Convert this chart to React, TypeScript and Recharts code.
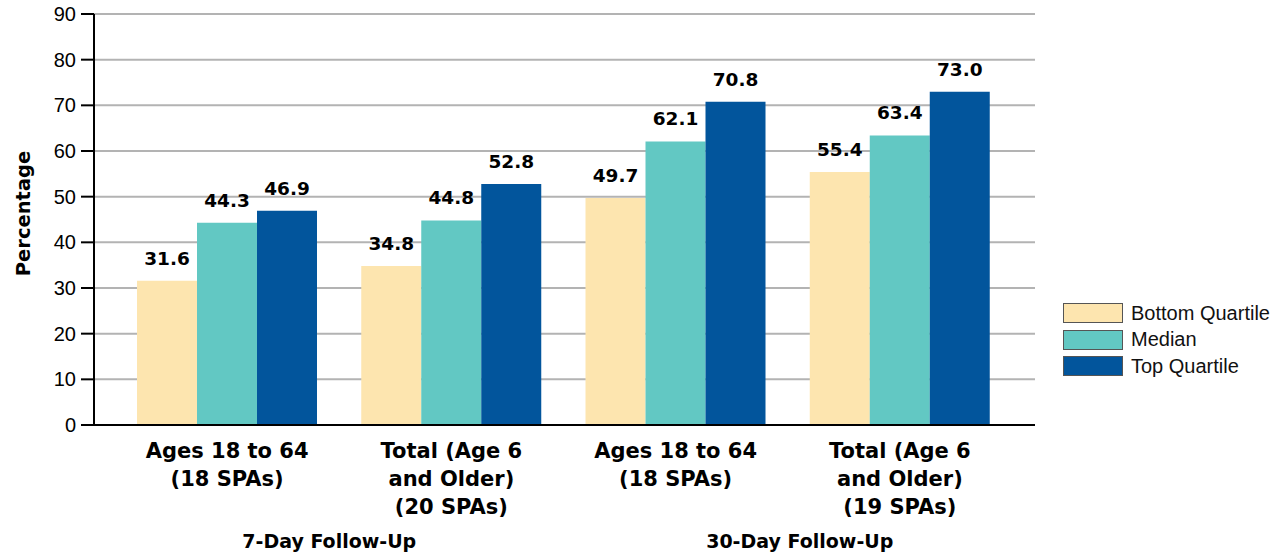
import React from 'react';
import { BarChart, Bar, XAxis, YAxis, CartesianGrid, Legend, LabelList } from 'recharts';

const categories = [
  'Ages 18 to 64\n(18 SPAs)',
  'Total (Age 6\nand Older)\n(20 SPAs)',
  'Ages 18 to 64\n(18 SPAs)',
  'Total (Age 6\nand Older)\n(19 SPAs)',
];
const followUp = ['7-Day Follow-Up', '7-Day Follow-Up', '30-Day Follow-Up', '30-Day Follow-Up'];
const bottomQuartile = [31.6, 34.8, 49.7, 55.4];
const median = [44.3, 44.8, 62.1, 63.4];
const topQuartile = [46.9, 52.8, 70.8, 73.0];
const yTicks = [0, 10, 20, 30, 40, 50, 60, 70, 80, 90];

const series = [
  { key: 'bottom', name: 'Bottom Quartile', color: '#fde5af' },
  { key: 'median', name: 'Median', color: '#62c8c3' },
  { key: 'top', name: 'Top Quartile', color: '#02559c' },
];

const data = categories.map((name, i) => ({
  name,
  group: followUp[i],
  bottom: bottomQuartile[i],
  median: median[i],
  top: topQuartile[i],
}));

const boldFont = '"DejaVu Sans", sans-serif';
const plainFont = '"Liberation Sans", Arial, sans-serif';

function CategoryTick({ x, y, payload }: any) {
  const lines = String(payload.value).split('\n');
  return (
    <text x={x} y={y} textAnchor="middle" fontFamily={boldFont} fontWeight="bold" fontSize={21} fill="#000">
      {lines.map((line, i) => (
        <tspan key={i} x={x} dy={i === 0 ? 33 : 28}>
          {line}
        </tspan>
      ))}
    </text>
  );
}

function GroupTick({ x, y, payload }: any) {
  return (
    <text x={x} y={y + 35} textAnchor="middle" fontFamily={boldFont} fontWeight="bold" fontSize={19} fill="#000">
      {payload.value}
    </text>
  );
}

function LegendBox({ payload }: any) {
  return (
    <div style={{ fontFamily: plainFont, fontSize: 20, color: '#111' }}>
      {(payload || []).map((entry: any) => (
        <div key={entry.value} style={{ display: 'flex', alignItems: 'center', height: 20, marginBottom: 6.5 }}>
          <div
            style={{
              width: 58,
              height: 18,
              background: entry.color,
              border: '1px solid #555',
              marginRight: 8,
            }}
          />
          <span>{entry.value}</span>
        </div>
      ))}
    </div>
  );
}

export default function App() {
  return (
    <div style={{ position: 'absolute', left: 0, top: 0, background: '#fff' }}>
      <BarChart
        width={1276}
        height={553}
        data={data}
        margin={{ top: 14, right: 241, bottom: 0, left: 0 }}
        barCategoryGap={22}
        barGap={0}
      >
        <CartesianGrid horizontal vertical={false} stroke="#b3b3b3" strokeWidth={2} />
        <XAxis
          dataKey="name"
          height={88}
          padding={{ left: 21, right: 23 }}
          tick={<CategoryTick />}
          tickLine={false}
          tickSize={0}
          tickMargin={0}
          interval={0}
          axisLine={{ stroke: '#000', strokeWidth: 2 }}
        />
        <XAxis
          xAxisId="group"
          dataKey="group"
          allowDuplicatedCategory={false}
          height={40}
          tick={<GroupTick />}
          tickLine={false}
          tickSize={0}
          tickMargin={0}
          interval={0}
          axisLine={false}
        />
        <YAxis
          width={94}
          domain={[0, 90]}
          ticks={yTicks}
          interval={0}
          tickSize={13}
          tickMargin={5}
          axisLine={{ stroke: '#000', strokeWidth: 2 }}
          tickLine={{ stroke: '#000', strokeWidth: 2 }}
          tick={{ fill: '#000', fontSize: 20, fontFamily: plainFont }}
          label={{
            content: ({ viewBox }: any) => {
              const cx = viewBox.x + 23;
              const cy = viewBox.y + viewBox.height / 2 - 6;
              return (
                <text
                  x={cx}
                  y={cy}
                  transform={`rotate(-90 ${cx} ${cy})`}
                  textAnchor="middle"
                  dominantBaseline="central"
                  fontFamily={boldFont}
                  fontWeight="bold"
                  fontSize={19.5}
                  fill="#000"
                >
                  Percentage
                </text>
              );
            },
          }}
        />
        <Legend
          layout="horizontal"
          align="center"
          verticalAlign="middle"
          content={<LegendBox />}
          wrapperStyle={{ left: 1063, top: 303, width: 210 }}
        />
        {series.map((s) => (
          <Bar key={s.key} dataKey={s.key} name={s.name} fill={s.color} isAnimationActive={false}>
            <LabelList
              dataKey={s.key}
              position="top"
              offset={16}
              formatter={(v: any) => Number(v).toFixed(1)}
              style={{ fontFamily: boldFont, fontWeight: 'bold', fontSize: 18.5, fill: '#000' }}
            />
          </Bar>
        ))}
      </BarChart>
    </div>
  );
}
